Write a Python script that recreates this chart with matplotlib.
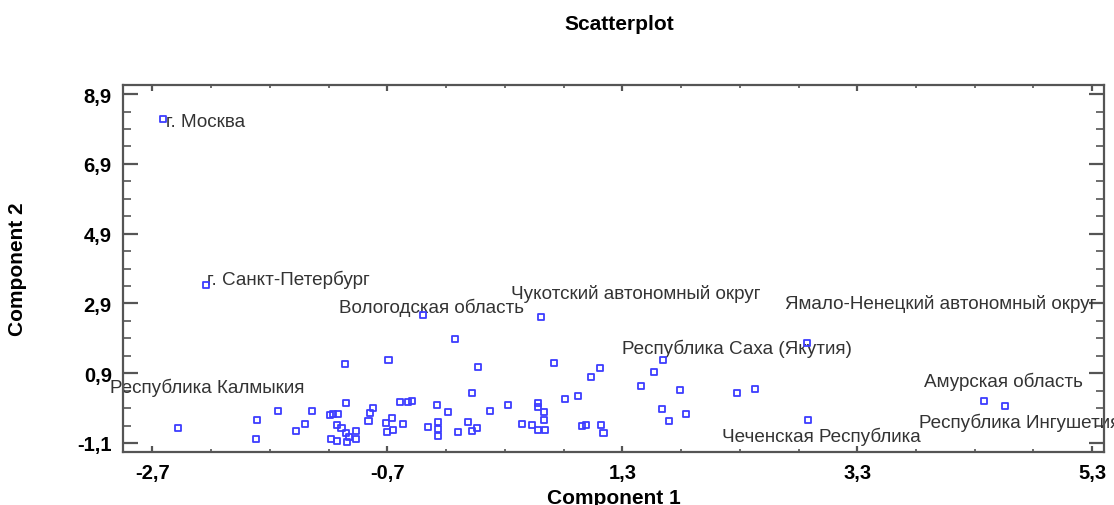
import matplotlib
matplotlib.use("Agg")
import matplotlib.pyplot as plt
import numpy as np
from matplotlib.ticker import FixedLocator, FuncFormatter

plt.rcParams['font.family'] = ['Liberation Sans', 'DejaVu Sans']

# labelled regions (Component 1, Component 2)
labeled_names = ['г. Москва', 'г. Санкт-Петербург', 'Вологодская область',
                 'Чукотский автономный округ', 'Ямало-Ненецкий автономный округ',
                 'Республика Саха (Якутия)', 'Республика Калмыкия',
                 'Амурская область', 'Республика Ингушетия', 'Чеченская Республика']
labeled_x = [-2.61, -2.24, -0.40, 0.61, 2.87, 1.65, -2.48, 4.38, 4.56, 2.88]
labeled_y = [8.18, 3.43, 2.57, 2.50, 1.77, 1.29, -0.68, 0.09, -0.05, -0.43]

# the rest of the regions
other_x = [-1.06, -0.69, -1.05, -1.81, -1.63, -1.34, -1.19, -1.16, -1.12, -1.40,
           -1.48, -1.82, -1.13, -1.09, -1.05, -0.97, -1.18, -1.13, -1.03, -1.04,
           -0.97, -0.82, -0.85, -0.86, -0.71, -0.66, -0.65, -0.70, -0.57, -0.59,
           -0.52, -0.49, -0.28, -0.35, -0.27, -0.27, -0.27, -0.12, 0.07, 0.72,
           1.11, 1.03, 0.02, -0.18, 0.17, 0.33, 0.58, 0.58, 0.63, 0.63,
           0.81, 0.92, -0.10, -0.01, 0.02, 0.06, 0.45, 0.53, 0.58, 0.64,
           0.96, 0.99, 1.12, 1.14, 1.57, 1.46, 1.79, 2.28, 2.43, 1.64,
           1.70, 1.84]
other_y = [1.15, 1.29, 0.04, -0.43, -0.18, -0.19, -0.29, -0.27, -0.26, -0.56,
           -0.76, -0.98, -0.58, -0.68, -0.81, -0.76, -0.98, -1.05, -0.94, -1.08,
           -0.99, -0.09, -0.25, -0.47, -0.53, -0.39, -0.73, -0.79, -0.56, 0.07,
           0.08, 0.11, -0.01, -0.63, -0.51, -0.70, -0.89, 1.88, 1.09, 1.20,
           1.04, 0.78, 0.32, -0.22, -0.18, -0.01, 0.05, -0.06, -0.22, -0.43,
           0.15, 0.25, -0.79, -0.51, -0.76, -0.67, -0.56, -0.58, -0.73, -0.73,
           -0.61, -0.58, -0.58, -0.81, 0.94, 0.54, 0.42, 0.32, 0.45, -0.13,
           -0.48, -0.27]

# where each label sits relative to its point (pixels: right, down)
label_offsets = [(3, 7), (1, -1), (-83.5, -3), (-30, -19.5), (-22, -35),
                 (-41.6, -6.4), (-68, -36.6), (-60, -15.8), (-86, 21), (-86, 21)]

x_major = np.arange(-2.7, 5.4, 2.0)
y_major = np.arange(-1.1, 9.0, 2.0)

fig = plt.figure(figsize=(11.14, 5.06), dpi=100)
ax = fig.add_axes([0.1104, 0.1047, 0.8806, 0.7253])

pt_color = '#3d3dff'
ax.scatter(other_x + labeled_x, other_y + labeled_y, marker='s', s=19,
           facecolors='none', edgecolors=pt_color, linewidths=1.3, zorder=3)

for name, x, y, (dx, dy) in zip(labeled_names, labeled_x, labeled_y, label_offsets):
    ax.annotate(name, (x, y), xytext=(dx * 0.72, -dy * 0.72), textcoords='offset points',
                ha='left', va='baseline', fontsize=13.6, color='#333333',
                annotation_clip=False, clip_on=False, zorder=2)

ax.set_xlim(-2.95, 5.4)
ax.set_ylim(-1.36, 9.16)

fmt = FuncFormatter(lambda v, p: '{:.1f}'.format(v).replace('.', ','))
ax.xaxis.set_major_locator(FixedLocator(x_major))
ax.yaxis.set_major_locator(FixedLocator(y_major))
ax.xaxis.set_minor_locator(FixedLocator(np.arange(-2.7, 5.4, 0.5)))
ax.yaxis.set_minor_locator(FixedLocator(np.arange(-1.1, 9.2, 0.5)))
ax.xaxis.set_major_formatter(fmt)
ax.yaxis.set_major_formatter(fmt)

spine_color = '#555555'
for s in ax.spines.values():
    s.set_color(spine_color)
    s.set_linewidth(1.6)

ax.tick_params(axis='both', which='both', direction='in', color=spine_color,
               top=True, right=True, labelsize=14.5)
ax.tick_params(axis='y', which='major', length=11, width=1.6, pad=8)
ax.tick_params(axis='y', which='minor', length=6, width=1.2)
ax.tick_params(axis='x', which='major', length=4, width=1.6, pad=8)
ax.tick_params(axis='x', which='minor', length=2, width=1.2)
for lbl in ax.get_xticklabels() + ax.get_yticklabels():
    lbl.set_fontweight('bold')

ax.set_xlabel('Component 1', fontsize=15, fontweight='bold', labelpad=4)
ax.set_ylabel('Component 2', fontsize=15, fontweight='bold', labelpad=36)
fig.text(0.556, 0.952, 'Scatterplot', ha='center', va='center',
         fontsize=15, fontweight='bold')

fig.savefig('out.png', dpi=100)
